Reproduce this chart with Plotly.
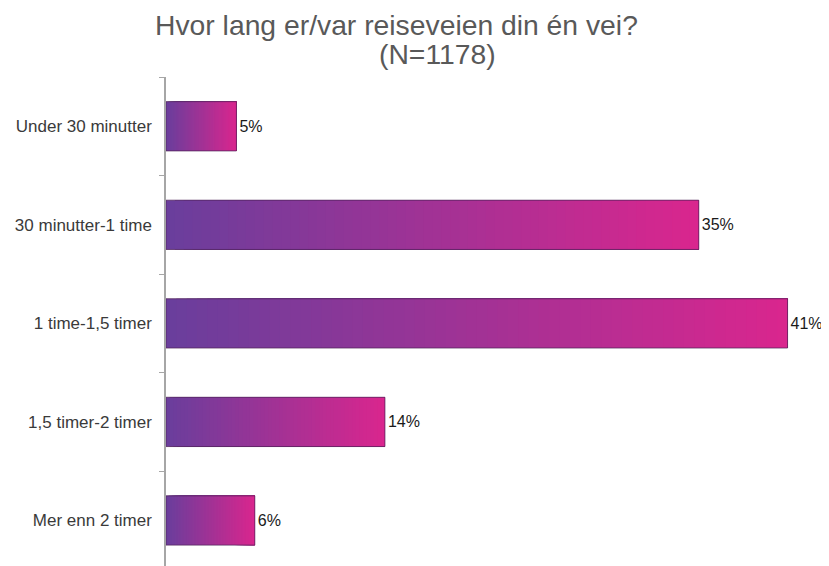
import plotly.graph_objects as go

categories = ["Under 30 minutter", "30 minutter-1 time", "1 time-1,5 timer", "1,5 timer-2 timer", "Mer enn 2 timer"]
values = [4.6, 34.8, 40.6, 14.3, 5.8]
value_labels = ["5%", "35%", "41%", "14%", "6%"]
title_line1 = "Hvor lang er/var reiseveien din én vei?"
title_line2 = "(N=1178)"

c_start = (106, 62, 156)
c_end = (217, 38, 142)
N = 60

fig = go.Figure()
for k in range(N):
    t = k / (N - 1)
    col = tuple(round(c_start[i] + (c_end[i] - c_start[i]) * t) for i in range(3))
    fig.add_trace(go.Bar(
        y=categories,
        x=[v - k * v / N for v in values],
        base=[k * v / N for v in values],
        orientation="h",
        width=0.5,
        marker=dict(color="rgb(%d,%d,%d)" % col, line=dict(width=0)),
        hoverinfo="skip",
        showlegend=False,
    ))

# outline + labels
fig.add_trace(go.Bar(
    y=categories,
    x=values,
    base=[0] * len(values),
    orientation="h",
    width=0.5,
    marker=dict(color="rgba(0,0,0,0)", line=dict(width=1, color="rgba(80,35,90,0.75)")),
    text=value_labels,
    textposition="outside",
    constraintext="none",
    cliponaxis=False,
    textfont=dict(family="Liberation Sans, Arial", size=16, color="#1a1a1a"),
    hoverinfo="skip",
    showlegend=False,
))

fig.update_layout(
    width=821, height=558,
    margin=dict(l=158, r=20, t=69, b=0, autoexpand=False),
    barmode="overlay",
    paper_bgcolor="white",
    plot_bgcolor="white",
    font=dict(family="Liberation Sans, Arial", color="#404040"),
    xaxis=dict(range=[0, 42], showgrid=False, zeroline=False, showline=False,
               showticklabels=False, ticks="", automargin=False),
    yaxis=dict(type="category", categoryorder="array", categoryarray=categories,
               range=[4.462, -0.5], showgrid=False, zeroline=False, automargin=False,
               showline=True, linecolor="#a6a6a6", linewidth=1.5,
               ticks="outside", tickson="boundaries", ticklen=5, tickcolor="#a6a6a6",
               tickwidth=1, tickfont=dict(size=17, color="#3a3a3a"),
               ticklabelstandoff=9),
    annotations=[
        dict(text=title_line1, xref="paper", yref="paper", x=0.359, y=1.1057,
             xanchor="center", yanchor="middle", showarrow=False,
             font=dict(size=28.3, color="#595959")),
        dict(text=title_line2, xref="paper", yref="paper", x=0.4215, y=1.0464,
             xanchor="center", yanchor="middle", showarrow=False,
             font=dict(size=28.3, color="#595959")),
    ],
)

fig.write_html("out.html")
